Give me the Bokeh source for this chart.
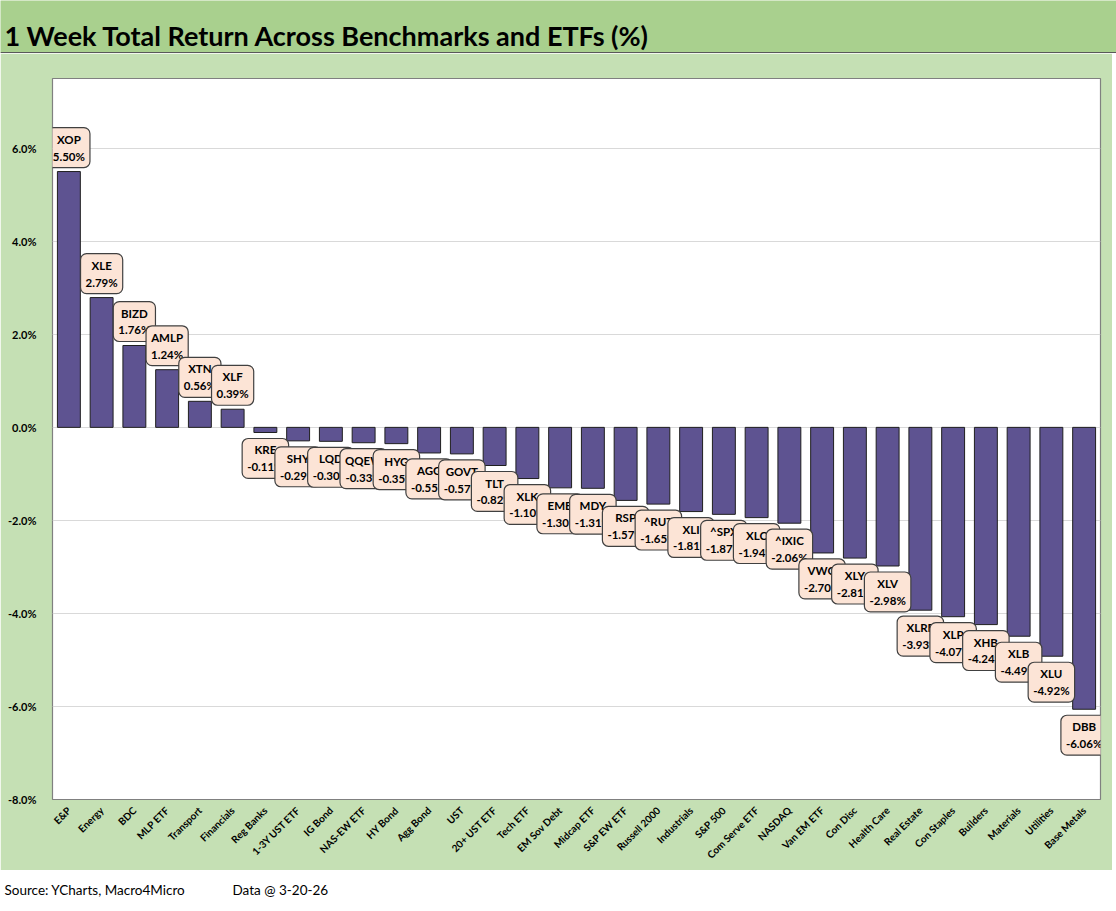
from bokeh.plotting import figure
from bokeh.models import Range1d, FixedTicker, ColumnDataSource, CustomJSTickFormatter
from bokeh.layouts import column
from bokeh.core.properties import value
from bokeh.embed import file_html
from bokeh.resources import INLINE

categories = ["E&P", "Energy", "BDC", "MLP ETF", "Transport", "Financials", "Reg Banks",
              "1-3Y UST ETF", "IG Bond", "NAS-EW ETF", "HY Bond", "Agg Bond", "UST",
              "20+ UST ETF", "Tech ETF", "EM Sov Debt", "Midcap ETF", "S&P EW ETF",
              "Russell 2000", "Industrials", "S&P 500", "Com Serve ETF", "NASDAQ",
              "Van EM ETF", "Con Disc", "Health Care", "Real Estate", "Con Staples",
              "Builders", "Materials", "Utilities", "Base Metals"]
tickers = ["XOP", "XLE", "BIZD", "AMLP", "XTN", "XLF", "KRE", "SHY", "LQD", "QQEW", "HYG",
           "AGG", "GOVT", "TLT", "XLK", "EMB", "MDY", "RSP", "^RUT", "XLI", "^SPX", "XLC",
           "^IXIC", "VWO", "XLY", "XLV", "XLRE", "XLP", "XHB", "XLB", "XLU", "DBB"]
returns = [5.50, 2.79, 1.76, 1.24, 0.56, 0.39, -0.11, -0.29, -0.30, -0.33, -0.35,
           -0.55, -0.57, -0.82, -1.10, -1.30, -1.31, -1.57, -1.65, -1.81, -1.87, -1.94,
           -2.06, -2.70, -2.81, -2.98, -3.93, -4.07, -4.24, -4.49, -4.92, -6.06]
y_ticks = [-8, -6, -4, -2, 0, 2, 4, 6]

TITLE = "1 Week Total Return Across Benchmarks and ETFs (%)"
SOURCE = "Source: YCharts, Macro4Micro"
DATA_NOTE = "Data @ 3-20-26"

W = 1116
BAND = "#A9D08E"
AREA = "#C5E0B4"
FONT = "Lato"


def no_align(fig):
    if "frame_align" in fig.properties():
        fig.frame_align = False


# ---- header band ----
hdr_h = 53
hdr = figure(width=W, height=hdr_h, x_range=Range1d(0, W), y_range=Range1d(0, hdr_h),
             output_backend="svg", toolbar_location=None, min_border=0,
             x_axis_type=None, y_axis_type=None)
no_align(hdr)
hdr.grid.visible = False
hdr.outline_line_color = None
hdr.background_fill_color = BAND
hdr.border_fill_color = BAND
hdr.text(x=[4], y=[hdr_h - 35], text=[TITLE], text_font=value(FONT), text_font_style="bold",
         text_font_size="27px", text_color="#000000", text_baseline="middle", text_align="left")
hdr.line(x=[0, W], y=[0.8, 0.8], line_color="#595959", line_width=1.5)

# ---- main chart ----
p = figure(x_range=categories, y_range=Range1d(-8, 7.5), width=1112, height=817,
           output_backend="svg", toolbar_location=None,
           min_border_left=52, min_border_right=12, min_border_top=25, min_border_bottom=71)
no_align(p)
p.background_fill_color = "#FFFFFF"
p.border_fill_color = AREA
p.outline_line_color = "#808080"
p.outline_line_width = 1.2

p.vbar(x=categories, top=returns, bottom=0, width=0.7, fill_color="#5E5391",
       line_color="#1F1F1F", line_width=1)

pos = [i for i, v in enumerate(returns) if v >= 0]
neg = [i for i, v in enumerate(returns) if v < 0]
for idx, base, off in ((pos, "bottom", -4), (neg, "top", 6)):
    src = ColumnDataSource(dict(
        x=[categories[i] for i in idx],
        y=[returns[i] for i in idx],
        t=[f"{tickers[i]}\n{returns[i]:.2f}%" for i in idx]))
    p.text(x="x", y="y", text="t", source=src, text_font=value(FONT), text_font_style="bold",
           text_font_size="11.5px", text_color="#000000", text_align="center",
           text_baseline=base, y_offset=off, text_line_height=1.3,
           background_fill_color="#FCE4D6", border_line_color="#404040", border_line_width=1.2,
           padding=5, border_radius=6)

p.xgrid.visible = False
p.ygrid.grid_line_color = "#D9D9D9"
p.ygrid.grid_line_width = 1
p.yaxis.ticker = FixedTicker(ticks=y_ticks)
p.yaxis.formatter = CustomJSTickFormatter(code="return tick.toFixed(1) + '%';")
for ax in (p.xaxis, p.yaxis):
    ax.axis_line_color = None
    ax.major_tick_line_color = None
    ax.minor_tick_line_color = None
    ax.major_label_text_font = FONT
    ax.major_label_text_color = "#000000"
p.yaxis.major_label_text_font_size = "11px"
p.yaxis.major_label_text_font_style = "bold"
p.yaxis.major_label_standoff = 10
p.xaxis.major_label_text_font_size = "10px"
p.xaxis.major_label_text_font_style = "bold"
p.xaxis.major_label_orientation = 0.785
p.xaxis.major_label_standoff = 3

# ---- footer ----
ftr_h = 41
ftr = figure(width=W, height=ftr_h, x_range=Range1d(0, W), y_range=Range1d(0, ftr_h),
             output_backend="svg", toolbar_location=None, min_border=0,
             x_axis_type=None, y_axis_type=None)
no_align(ftr)
ftr.grid.visible = False
ftr.outline_line_color = None
ftr.background_fill_color = "#FFFFFF"
ftr.border_fill_color = "#FFFFFF"
ftr.text(x=[4, 232], y=[ftr_h - 19] * 2, text=[SOURCE, DATA_NOTE], text_font=value(FONT),
         text_font_size="13.5px", text_color="#000000", text_baseline="middle", text_align="left")

layout = column(hdr, p, ftr, spacing=0)
open("out.html", "w").write(file_html(layout, INLINE))
